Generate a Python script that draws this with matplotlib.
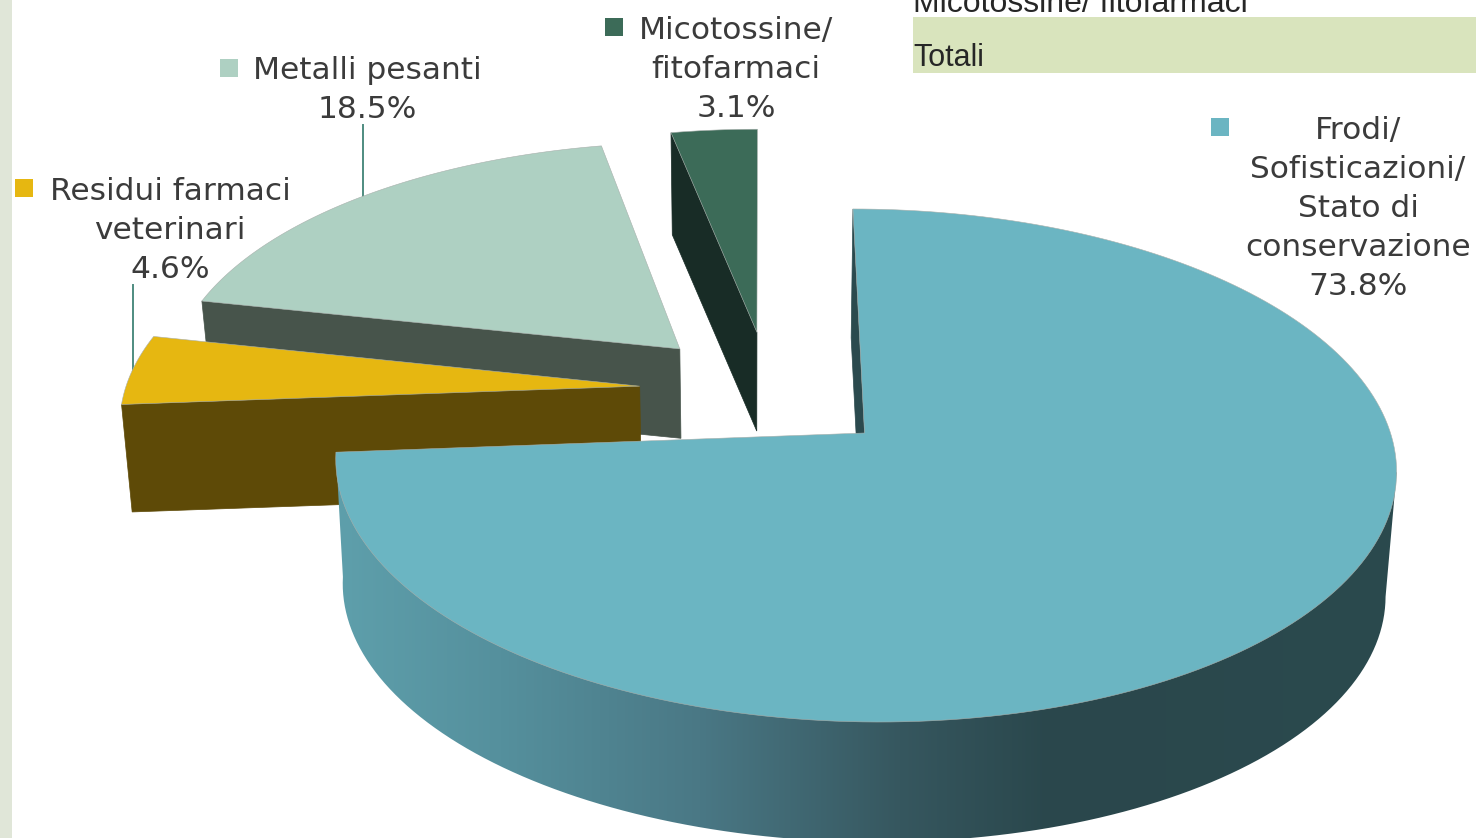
import numpy as np
import matplotlib
matplotlib.use('Agg')
import matplotlib.pyplot as plt
from matplotlib.patches import Polygon, Rectangle
from matplotlib.colors import to_rgb

categories = ['Frodi/ Sofisticazioni/ Stato di conservazione', 'Residui farmaci veterinari',
              'Metalli pesanti', 'Micotossine/ fitofarmaci']
values = [73.8, 4.6, 18.5, 3.1]
label_lines = [['Frodi/', 'Sofisticazioni/', 'Stato di', 'conservazione'],
               ['Residui farmaci', 'veterinari'],
               ['Metalli pesanti'],
               ['Micotossine/', 'fitofarmaci']]
table_rows = ['Micotossine/ fitofarmaci', 'Totali']

top_colors = ['#6bb5c2', '#e6b711', '#aed0c2', '#3c6b58']
side_colors = ['#2b4a4e', '#5e4a07', '#47544b', '#182c26']
# slice offset on the pie plane and thickness in pixels
explode = [(0, 0), (-0.433, 0.19), (-0.358, 0.348), (-0.205, 0.42)]
depth = [125, 107, 88, 97]
label_x = [1358, 170, 367, 736]
label_y = [139, 200, 79, 39]
key_xy = [(1211, 118), (15, 179), (220, 59), (605, 18)]

# perspective of the pie plane
XC, YC = 864.5, 433
A, B, P, SKEW = 526, 252.4, 0.1267, -13
LOWER_SCALE = 0.983
LOWER_SHIFT = -2


def project(u, v, d=0):
    w = 1 + P * v
    x = XC + (A * u + SKEW * v) / w
    y = YC - B * v / w
    if d:
        x = XC + LOWER_SHIFT + LOWER_SCALE * (x - XC)
        y = YC + d + LOWER_SCALE * (y - YC)
    return np.array(x), np.array(y)


def rim(t0, t1, ex, d=0, n=200):
    t = np.radians(np.linspace(t0, t1, n))
    return project(np.sin(t) + ex[0], np.cos(t) + ex[1], d)


fig = plt.figure(figsize=(14.76, 8.38), dpi=100)
ax = fig.add_axes([0, 0, 1, 1])

ax.add_patch(Rectangle((0, 0), 12, 838, fc='#e0e6d8', ec='none'))

# table left over behind the chart
ax.add_patch(Rectangle((913, 17), 563, 56, fc='#d9e4bd', ec='none'))
ax.text(913, 12, table_rows[0], family='Liberation Sans', fontsize=23, color='#262626', va='baseline')
ax.text(913, 66, table_rows[1], family='Liberation Sans', fontsize=22, color='#262626', va='baseline')

# leader lines
ax.plot([363, 363], [125, 200], color='#4e8c80', lw=1.4, zorder=1)
ax.plot([133, 133], [285, 375], color='#4e8c80', lw=1.4, zorder=1)

grad_x = [340, 500, 700, 900, 1050, 1400]
grad_c = np.array([to_rgb(c) for c in ['#5e9fab', '#55909d', '#4a7885', '#36575f', '#2a474c', '#2b4a4e']])

ends = np.cumsum(values) / sum(values) * 360
starts = ends - np.array(values) / sum(values) * 360
order = [3, 2, 1, 0]  # back to front

for z, i in enumerate(order):
    t0, t1, ex, d = starts[i], ends[i], explode[i], depth[i]
    tx, ty = rim(t0, t1, ex)
    lx, ly = rim(t0, t1, ex, d)
    ax0 = project(ex[0], ex[1])
    ax1 = project(ex[0], ex[1], d)
    zb = 2 + z * 2
    # cut face on the clockwise start, the only one that shows
    face = [(tx[0], ty[0]), (lx[0], ly[0]), (float(ax1[0]), float(ax1[1])), (float(ax0[0]), float(ax0[1]))]
    ax.add_patch(Polygon(face, fc=side_colors[i], ec=side_colors[i], lw=0.5, zorder=zb))
    # outer wall of the big slice, shaded along x
    if i == 0:
        # outline runs from the rightmost rim point round the lower rim, the top face hides the rest
        r = np.argmax(tx)
        wall_pts = np.column_stack([np.r_[tx[r], lx[r:], tx[-1]], np.r_[ty[r], ly[r:], ty[-1]]])
        wall = Polygon(wall_pts, transform=ax.transData)
        xs = np.linspace(300, 1420, 600)
        grad = np.column_stack([np.interp(xs, grad_x, grad_c[:, c]) for c in range(3)])
        im = ax.imshow(grad[np.newaxis, :, :], extent=(300, 1420, 860, 300), aspect='auto',
                       interpolation='bilinear', zorder=zb)
        im.set_clip_path(wall)
    # top face
    pts = np.column_stack([np.r_[float(ax0[0]), tx], np.r_[float(ax0[1]), ty]])
    ax.add_patch(Polygon(pts, fc=top_colors[i], ec='#a8b0ac', lw=0.4, zorder=zb + 1))

# labels
for i in range(len(values)):
    lines = label_lines[i] + ['%.1f%%' % values[i]]
    for n, line in enumerate(lines):
        ax.text(label_x[i], label_y[i] + 39 * n, line, ha='center', va='baseline',
                fontsize=22.5, color='#3b3b3b', family='DejaVu Sans', zorder=20)
    ax.add_patch(Rectangle(key_xy[i], 18, 18, fc=top_colors[i], ec='none', zorder=20))

ax.set_xlim(0, 1476)
ax.set_ylim(838, 0)
ax.axis('off')

fig.savefig('out.png', dpi=100, facecolor='white')
